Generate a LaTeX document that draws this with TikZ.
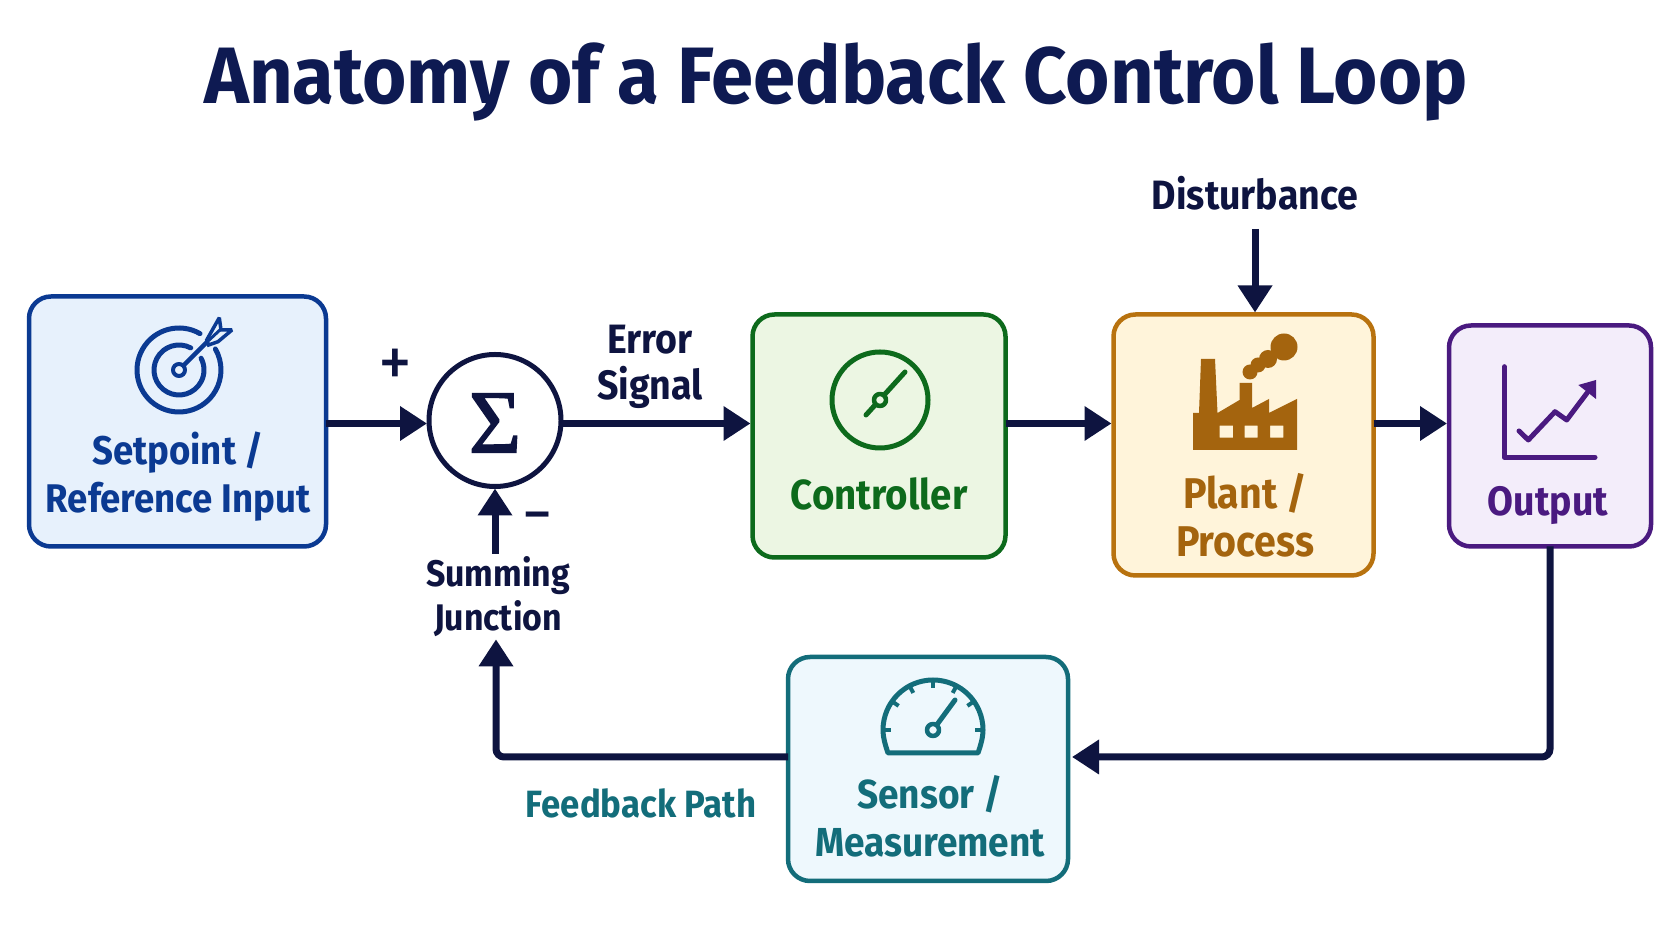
\documentclass[tikz,border=0pt]{standalone}
\usepackage{fontspec}
\setmainfont{Fira Sans}[FakeStretch=0.915]
\newfontfamily\titlefont{Fira Sans}[FakeStretch=0.95]
\newfontfamily\sigmafont{Liberation Serif}[FakeBold=1.6]
\usetikzlibrary{arrows.meta}
\definecolor{ink}{HTML}{0E1440}
\definecolor{titleink}{HTML}{0E1A52}
\definecolor{setc}{HTML}{0B3A92}\definecolor{setf}{HTML}{E7F1FC}
\definecolor{ctlc}{HTML}{0D6A1C}\definecolor{ctlf}{HTML}{ECF6E3}
\definecolor{plc}{HTML}{B8720F}\definecolor{plf}{HTML}{FFF4DA}\definecolor{plt}{HTML}{A4640E}
\definecolor{outc}{HTML}{4A1A80}\definecolor{outf}{HTML}{F3EDFA}
\definecolor{senc}{HTML}{136D7A}\definecolor{senf}{HTML}{EEF8FD}
\tikzset{
  blockbox/.style={draw,rounded corners=22pt,line width=4.5pt,inner sep=0pt,outer sep=0pt},
  boxlabel/.style={font=\fontsize{#1}{48}\selectfont\bfseries,align=center,inner sep=0pt,anchor=center},
  smalllabel/.style={font=\fontsize{#1}{44}\selectfont\bfseries,align=center,inner sep=0pt,anchor=center,text=ink},
  conn/.style={draw=ink,line width=7pt,-{Triangle[length=27pt,width=33pt]},shorten >=2pt,rounded corners=8pt},
  icon/.style={line width=5pt,line cap=round,line join=round},
}
\begin{document}
\begin{tikzpicture}[x=1pt,y=1pt]
\useasboundingbox[fill=white] (0,0) rectangle (1672,941);

\node[font=\titlefont\fontsize{80}{80}\selectfont\bfseries,text=titleink,inner sep=0pt] (title) at (836,859) {Anatomy of a Feedback Control Loop};

% blocks
\node[blockbox,draw=setc,fill=setf,minimum width=297pt,minimum height=250pt] (setp) at (177.5,519.5) {};
\node[blockbox,draw=ctlc,fill=ctlf,minimum width=253pt,minimum height=243pt] (ctrl) at (879,505) {};
\node[blockbox,draw=plc,fill=plf,minimum width=260pt,minimum height=261pt] (plant) at (1243.5,496) {};
\node[blockbox,draw=outc,fill=outf,minimum width=202pt,minimum height=221pt] (out) at (1550,505) {};
\node[blockbox,draw=senc,fill=senf,minimum width=280pt,minimum height=224pt] (sens) at (928,172) {};
\node[draw=ink,line width=5pt,circle,fill=white,minimum size=132pt,inner sep=0pt,outer sep=0pt] (sum) at (495,520.5) {};
\node[font=\sigmafont\fontsize{90}{90}\selectfont,text=ink,inner sep=0pt] (sigma) at (495,518) {Σ};

% labels
\node[boxlabel=40,text=setc] (lset) at (178,464) {Setpoint /\\Reference Input};
\node[boxlabel=42,text=ctlc] (lctl) at (879,447) {Controller};
\node[boxlabel=43,text=plt] (lpl) at (1245,426) {Plant /\\Process};
\node[boxlabel=41,text=outc] (lout) at (1548,435) {Output};
\node[boxlabel=40.5,text=senc] (lsen) at (930,125) {Sensor /\\Measurement};
\node[smalllabel=41] (lerr) at (650,574) {Error\\[2pt]Signal};
\node[smalllabel=37] (ljun) at (498,344) {Summing\\Junction};
\node[smalllabel=41] (ldis) at (1255,748) {Disturbance};
\node[smalllabel=38,text=senc] (lfb) at (641,138) {Feedback Path};
\node[font=\fontsize{74}{74}\selectfont,text=ink,inner sep=0pt] (lplus) at (395,573) {+};
\node[font=\fontsize{66}{66}\selectfont,text=ink,inner sep=0pt] (lminus) at (538,417) {−};

% connectors
\coordinate (main) at (0,517.5);
\coordinate (fby) at (0,184);
\coordinate (distop) at (1255,712);
\coordinate (fbx) at (496,0);
\draw[conn] (setp.east |- main) -- (sum.west |- main);
\draw[conn] (sum.east |- main) -- (ctrl.west |- main);
\draw[conn] (ctrl.east |- main) -- (plant.west |- main);
\draw[conn] (plant.east |- main) -- (out.west |- main);
\draw[conn] (distop) -- (distop |- plant.north);
\draw[conn] (ljun.north -| sum.south) ++(0,3) -- (sum.south);
\draw[conn,shorten >=4pt] (out.south) |- (sens.east |- fby);
\draw[conn] (sens.west |- fby) -| (fbx |- ljun.south);

% target icon
\begin{scope}[shift={(179,571)},draw=setc,icon]
  \draw (60:42) arc (60:390:42);
  \draw (62:25) arc (62:388:25);
  \draw[line width=4.5pt] (0,0) -- (28,28);
  \draw[fill=setf,line width=4pt] (0,0) circle (6);
  \draw[fill=setf,line width=3.5pt,miter limit=2,line join=miter] (27.7,30) -- (40.3,52.3) -- (42,40) -- (53,40) -- (39,28.3) -- (29.6,25) -- cycle;
  \draw[line width=3pt] (28,28) -- (42,41);
\end{scope}

% controller dial
\begin{scope}[shift={(880,541)},draw=ctlc,icon]
  \draw (0,0) circle (48);
  \draw (-14,-15) -- (25,28);
  \draw[fill=ctlf,line width=4.5pt] (0,0) circle (6);
\end{scope}

% factory
\begin{scope}[shift={(0,941)},yscale=-1,fill=plt]
  \fill[even odd rule] (1193,450) -- (1193,413) -- (1199,413) -- (1201,359) -- (1215,359) -- (1217.5,413) -- (1239.5,400) -- (1239.5,383) -- (1252,383) -- (1252,408) -- (1269,399) -- (1269,413) -- (1297,399) -- (1297,450) -- cycle
   (1219.6,425.7) rectangle (1233,437.7)
   (1244.5,425.7) rectangle (1257.7,437.7)
   (1270,425.7) rectangle (1283.4,437.7);
  \fill (1284,347) circle (13.5);
  \fill (1268,359) circle (9);
  \fill (1258,365) circle (7.5);
  \fill (1250,372) circle (7.5);
\end{scope}

% output chart
\begin{scope}[shift={(0,941)},yscale=-1,draw=outc,icon]
  \draw (1504.3,366.7) -- (1504.3,457.3) -- (1595,457.3);
  \draw (1519,431) -- (1528.3,440) -- (1555,411.7) -- (1566.7,420) -- (1587,393);
  \fill[outc,draw=none] (1578.3,385) -- (1596,380) -- (1596,399) -- cycle;
\end{scope}

% sensor gauge
\begin{scope}[shift={(933,211)},draw=senc,icon]
  \draw (-45,-23) .. controls (-48.5,-13) and (-50,-6) .. (-50,0) arc (180:0:50) .. controls (50,-6) and (48.5,-13) .. (45,-23) -- cycle;
  \foreach \a in {180,145,118,90,62,35,0} \draw[line width=4pt,line cap=butt] (\a:50) -- (\a:42);
  \draw (0,0) -- (22,30);
  \draw[fill=senf,line width=4.5pt] (0,0) circle (6);
\end{scope}
\end{tikzpicture}
\end{document}
